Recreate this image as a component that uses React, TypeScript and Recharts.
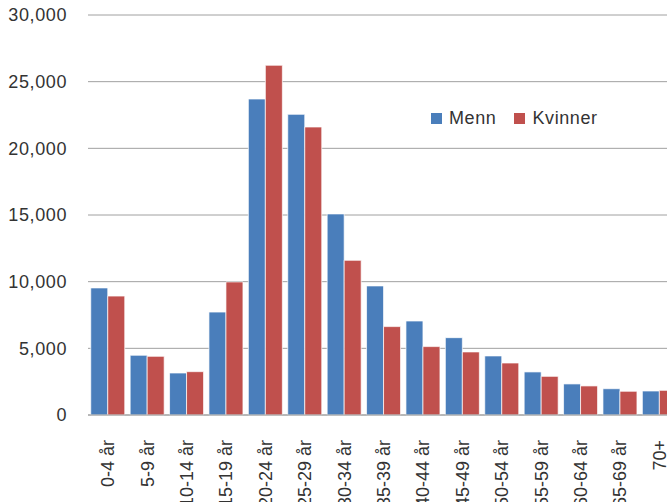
import React from 'react';
import { BarChart, Bar, XAxis, YAxis, CartesianGrid } from 'recharts';

// Age groups and counts per sex
const ageGroups = ['0-4 år', '5-9 år', '10-14 år', '15-19 år', '20-24 år', '25-29 år', '30-34 år', '35-39 år', '40-44 år', '45-49 år', '50-54 år', '55-59 år', '60-64 år', '65-69 år', '70+'];
const menn = [9530, 4480, 3150, 7720, 23700, 22550, 15080, 9680, 7050, 5800, 4430, 3230, 2330, 1970, 1800];
const kvinner = [8920, 4400, 3250, 9980, 26230, 21600, 11600, 6630, 5130, 4730, 3900, 2900, 2180, 1780, 1850];
const yTicks = [0, 5000, 10000, 15000, 20000, 25000, 30000];

const data = ageGroups.map((g, i) => ({ group: g, menn: menn[i], kvinner: kvinner[i] }));

const FONT = '"Liberation Sans", Arial, sans-serif';
const BLUE = '#4a7ebb';
const RED = '#c0504d';

const RotatedTick = (props: any) => {
  const { x, y, payload } = props;
  return (
    <g transform={`translate(${x},${y})`}>
      <text
        transform="rotate(-90)"
        x={-17}
        y={0}
        dy="0.36em"
        textAnchor="end"
        fill="#333"
        fontSize={18}
        fontFamily={FONT}
      >
        {payload.value}
      </text>
    </g>
  );
};

const LegendBox = () => (
  <div style={{ position: 'absolute', left: 431, top: 108, display: 'flex', alignItems: 'center', fontFamily: FONT, fontSize: 18, color: '#333', letterSpacing: 0.6, lineHeight: '20px' }}>
    <span style={{ width: 11, height: 11, background: BLUE, display: 'inline-block', marginRight: 7 }} />
    <span style={{ marginRight: 18 }}>Menn</span>
    <span style={{ width: 11, height: 11, background: RED, display: 'inline-block', marginRight: 7 }} />
    <span>Kvinner</span>
  </div>
);

const App: React.FC = () => {
  return (
    <div style={{ position: 'fixed', left: 0, top: 0, width: 667, height: 502, overflow: 'hidden', background: '#fff' }}>
      <BarChart
        width={700}
        height={502}
        data={data}
        margin={{ top: 15, right: 21, left: 0, bottom: 0 }}
        barCategoryGap="7%"
        barGap={0}
      >
        <CartesianGrid vertical={false} stroke="#a0a0a0" />
        <XAxis
          dataKey="group"
          interval={0}
          height={87}
          tickLine={false}
          axisLine={{ stroke: '#a0a0a0' }}
          tick={<RotatedTick />}
        />
        <YAxis
          width={88}
          domain={[0, 30000]}
          ticks={yTicks}
          tickFormatter={(v: number) => v.toLocaleString('en-US')}
          axisLine={false}
          tickLine={false}
          tickSize={0}
          tickMargin={21}
          tick={{ fontSize: 18, fill: '#333', fontFamily: FONT, letterSpacing: 0.6 }}
        />
        <Bar dataKey="menn" name="Menn" fill={BLUE} stroke="rgba(255,255,255,0.7)" strokeWidth={1} isAnimationActive={false} />
        <Bar dataKey="kvinner" name="Kvinner" fill={RED} stroke="rgba(255,255,255,0.7)" strokeWidth={1} isAnimationActive={false} />
      </BarChart>
      <LegendBox />
    </div>
  );
};

export default App;
